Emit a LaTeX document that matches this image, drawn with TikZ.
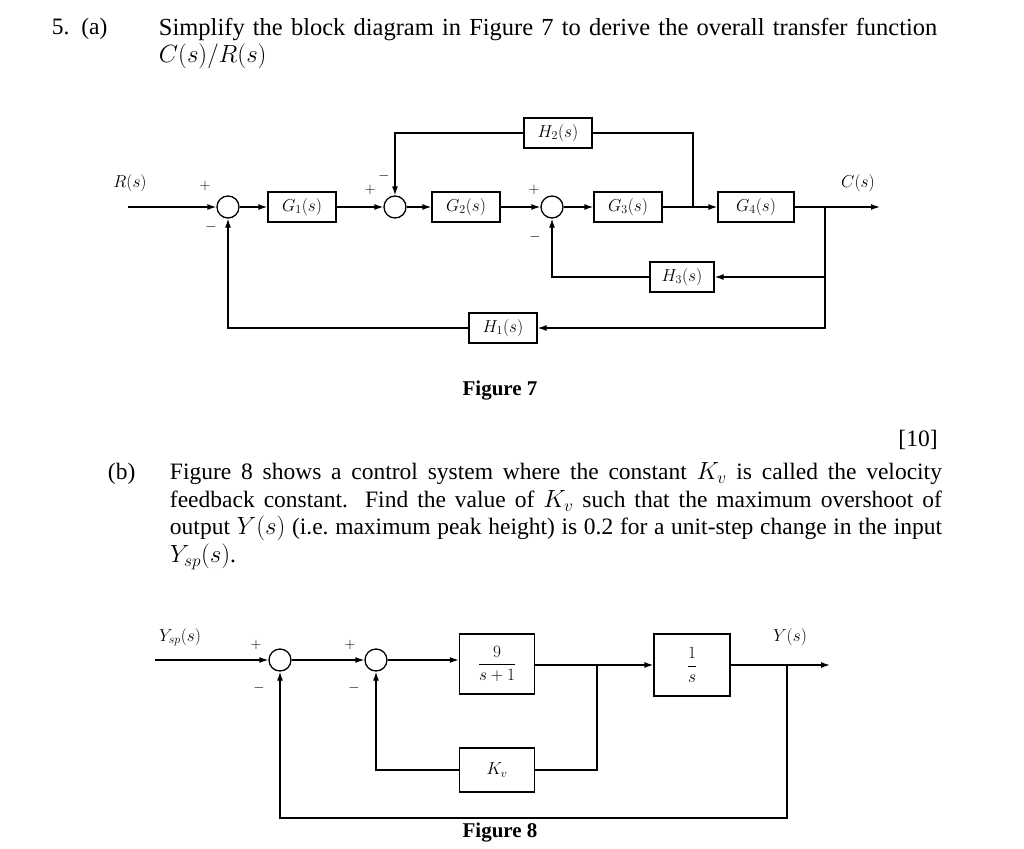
\documentclass[tikz,border=0pt]{standalone}
\usepackage{fontspec}
\setmainfont{Liberation Serif}
\usetikzlibrary{arrows.meta}
\begin{document}
\begin{tikzpicture}[x=1pt,y=-1pt,
  blk/.style={draw,line width=1.3pt,minimum height=30pt,inner sep=3pt,font=\fontsize{17}{20}\selectfont},
  sj/.style={draw,circle,minimum size=22pt,inner sep=0pt},
  sg/.style={font=\fontsize{15}{17}\selectfont},
  lab/.style={font=\fontsize{17}{20}\selectfont},
  txt/.style={font=\fontsize{23.5}{27.5}\selectfont,anchor=north west,align=justify},
  ar/.style={-{Latex[length=9pt,width=6pt]}},
  every path/.style={line width=1.3pt}]
\useasboundingbox (0,0) rectangle (1024,848);
% text
\node[txt,anchor=north west] (q5) at (48,14) {5.\ \ (a)};
\node[txt,text width=795pt,align=left,font=\fontsize{24.5}{27.5}\selectfont] (qa) at (155,14) {Simplify the block diagram in Figure 7 to derive the overall transfer function\\ $C(s)/R(s)$};
% Figure 7
\node[lab] (R) at (130,183) {$R(s)$};
\coordinate (Rin) at (128,207);
\node[sj] (s1) at (228,207) {};
\node[blk,minimum width=68pt] (G1) at (302,207) {$G_1(s)$};
\node[sj] (s2) at (395,207) {};
\node[blk,minimum width=68pt] (G2) at (466,207) {$G_2(s)$};
\node[sj] (s3) at (552,207) {};
\node[blk,minimum width=68pt] (G3) at (628,207) {$G_3(s)$};
\node[blk,minimum width=76pt] (G4) at (756,207) {$G_4(s)$};
\node[blk,minimum width=68pt] (H2) at (558,133) {$H_2(s)$};
\node[blk,minimum width=64pt] (H3) at (682,277) {$H_3(s)$};
\node[blk,minimum width=68pt] (H1) at (503,328) {$H_1(s)$};
\coordinate (Cout) at (880,207);
\node[lab] (C) at (858,183) {$C(s)$};
\coordinate (b1) at (693,207);
\coordinate (b2) at (825,207);
\draw[ar] (Rin) -- (s1.west);
\draw[ar] (s1.east) -- (G1.west);
\draw[ar] (G1.east) -- (s2.west);
\draw[ar] (s2.east) -- (G2.west);
\draw[ar] (G2.east) -- (s3.west);
\draw[ar] (s3.east) -- (G3.west);
\draw[ar] (G3.east) -- (G4.west);
\draw[ar] (G4.east) -- (Cout);
\draw (b1) |- (H2.east);
\draw[ar] (H2.west) -| (s2.north);
\draw[ar] (b2) |- (H3.east);
\draw[ar] (H3.west) -| (s3.south);
\draw[ar] (b2) |- (H1.east);
\draw[ar] (H1.west) -| (s1.south);
\node[sg] (p1) at (205,186) {$+$};
\node[sg] (m1) at (211,227) {$-$};
\node[sg] (p2) at (370,190) {$+$};
\node[sg] (m2) at (384,176) {$-$};
\node[sg] (p3) at (534,190) {$+$};
\node[sg] (m3) at (535,237) {$-$};
\node[font=\bfseries\fontsize{21}{24}\selectfont] (f7) at (500,391) {Figure 7};
\node[txt,anchor=center] (m10) at (918,440) {[10]};
% (b)
\node[txt] (qb) at (104,459) {(b)};
\node[txt,text width=772pt] (qbt) at (166,459) {Figure 8 shows a control system where the constant $K_v$ is called the velocity\linebreak feedback constant. Find the value of $K_v$ such that the maximum overshoot of\linebreak output $Y(s)$ (i.e.\ maximum peak height) is 0.2 for a unit-step change in the input\linebreak $Y_{sp}(s)$.};
% Figure 8
\node[lab] (Ysp) at (180,637) {$Y_{sp}(s)$};
\coordinate (Yin) at (155,660);
\node[sj] (sa) at (280,660) {};
\node[sj] (sb) at (376,660) {};
\node[blk,minimum width=75pt,minimum height=60pt] (P) at (497,664) {$\displaystyle\frac{9}{s+1}$};
\node[blk,minimum width=76pt,minimum height=62pt] (I) at (692,665) {$\displaystyle\frac{1}{s}$};
\node[blk,minimum width=75pt,minimum height=44pt] (Kv) at (497,770) {$K_v$};
\node[lab] (Y) at (790,637) {$Y(s)$};
\coordinate (Yout) at (830,665);
\coordinate (c1) at (597,665);
\coordinate (c2) at (787,665);
\draw[ar] (Yin) -- (sa.west);
\draw[ar] (sa.east) -- (sb.west);
\draw[ar] (sb.east) -- (P.west |- sb.east);
\draw[ar] (P.east |- I.west) -- (I.west);
\draw[ar] (I.east) -- (Yout);
\draw (c1) |- (Kv.east);
\draw[ar] (Kv.west) -| (sb.south);
\draw[ar] (c2) |- (590,818) -| (sa.south);
\node[sg] (pa) at (256,645) {$+$};
\node[sg] (ma) at (259,688) {$-$};
\node[sg] (pb) at (350,645) {$+$};
\node[sg] (mb) at (354,688) {$-$};
\node[font=\bfseries\fontsize{21}{24}\selectfont] (f8) at (500,833) {Figure 8};
\end{tikzpicture}
\end{document}
